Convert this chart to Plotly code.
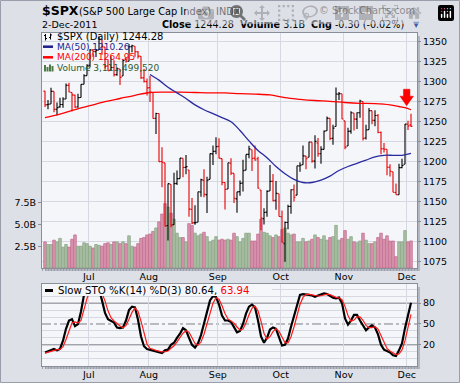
import plotly.graph_objects as go

# ---------------- data ----------------
month_labels = ["Jul", "Aug", "Sep", "Oct", "Nov", "Dec"]
month_start_idx = [15, 35, 58, 79, 100, 121]
prev_close = 1289.00

open_ = [1288.26, 1271.31, 1272.22, 1287.87, 1265.53, 1268.58, 1271.50, 1278.40, 1295.48, 1286.60, 1283.04, 1268.44, 1280.21, 1296.85, 1307.64,
         1320.64, 1339.59, 1337.56, 1339.62, 1352.39, 1343.31, 1319.61, 1314.45, 1317.74, 1308.87, 1315.94, 1307.07, 1328.66, 1325.65, 1343.80, 1344.32, 1337.39, 1331.91, 1304.84, 1300.12,
         1292.59, 1286.56, 1254.25, 1260.23, 1200.28, 1198.48, 1120.23, 1171.77, 1121.30, 1172.87, 1178.86, 1204.22, 1192.89, 1189.62, 1140.47, 1123.55, 1124.36, 1162.16, 1176.69, 1158.85, 1177.91, 1209.76, 1213.00,
         1219.12, 1203.90, 1173.97, 1165.85, 1197.98, 1185.37, 1153.50, 1162.59, 1173.32, 1189.44, 1209.21, 1214.99, 1204.50, 1203.63, 1164.55, 1128.82, 1136.91, 1163.32, 1175.39, 1151.74, 1159.93,
         1131.21, 1097.42, 1124.03, 1144.11, 1165.03, 1158.15, 1194.60, 1196.19, 1206.96, 1205.65, 1224.47, 1200.75, 1223.46, 1209.92, 1215.39, 1238.72, 1254.19, 1229.17, 1243.97, 1284.39, 1284.96,
         1251.00, 1219.62, 1238.25, 1260.82, 1253.21, 1261.12, 1275.18, 1229.59, 1240.12, 1263.85, 1251.70, 1257.81, 1236.56, 1216.19, 1215.62, 1192.98, 1187.48, 1161.41, 1158.67, 1192.56, 1196.72,
         1246.91, 1246.03]
high = [1288.26, 1277.04, 1292.50, 1287.87, 1274.11, 1279.82, 1280.42, 1297.62, 1298.61, 1286.60, 1283.93, 1284.91, 1296.80, 1309.21, 1321.97,
        1341.01, 1340.89, 1340.94, 1356.48, 1352.39, 1343.31, 1327.17, 1331.48, 1326.88, 1317.70, 1315.94, 1328.14, 1330.43, 1347.00, 1346.10, 1344.32, 1338.51, 1331.91, 1316.32, 1304.16,
        1307.38, 1286.56, 1261.20, 1260.23, 1218.11, 1198.48, 1172.88, 1171.77, 1186.29, 1189.04, 1204.49, 1204.22, 1208.47, 1189.62, 1154.54, 1145.49, 1162.35, 1178.56, 1190.68, 1181.23, 1210.28, 1220.10, 1230.71,
        1229.29, 1203.90, 1173.97, 1198.62, 1204.40, 1185.37, 1162.52, 1176.41, 1202.38, 1209.11, 1220.06, 1214.99, 1220.39, 1206.30, 1164.55, 1141.72, 1164.19, 1195.86, 1184.71, 1175.87, 1159.93,
        1138.99, 1125.12, 1146.07, 1165.55, 1171.40, 1194.91, 1199.24, 1220.25, 1207.46, 1224.61, 1224.47, 1233.10, 1229.64, 1219.36, 1239.03, 1256.55, 1254.19, 1246.28, 1292.66, 1287.08, 1284.96,
        1251.00, 1242.48, 1263.21, 1260.82, 1261.70, 1277.55, 1275.18, 1246.22, 1266.98, 1263.85, 1264.25, 1259.61, 1237.73, 1223.51, 1215.62, 1196.81, 1187.48, 1172.66, 1197.35, 1203.67, 1247.11,
        1251.09, 1260.08]
low = [1268.28, 1265.64, 1272.22, 1261.90, 1258.07, 1267.40, 1267.56, 1278.40, 1286.79, 1262.87, 1267.24, 1267.53, 1280.21, 1296.85, 1307.64,
       1318.18, 1330.92, 1330.92, 1339.62, 1333.71, 1316.42, 1313.33, 1314.45, 1306.51, 1307.35, 1295.92, 1307.07, 1323.65, 1325.65, 1336.95, 1331.09, 1329.10, 1303.49, 1299.16, 1282.86,
       1274.73, 1254.03, 1234.56, 1199.54, 1168.09, 1119.28, 1101.54, 1118.01, 1121.30, 1170.74, 1178.86, 1180.53, 1184.36, 1131.03, 1122.05, 1121.09, 1124.36, 1156.30, 1155.47, 1135.91, 1177.91, 1195.77, 1209.35,
       1203.85, 1170.56, 1140.13, 1165.85, 1183.34, 1148.37, 1136.07, 1157.44, 1162.73, 1189.44, 1204.46, 1188.36, 1201.29, 1166.21, 1114.22, 1121.36, 1131.07, 1163.32, 1150.40, 1139.93, 1131.34,
       1098.92, 1074.77, 1115.68, 1134.95, 1150.26, 1158.15, 1187.30, 1196.19, 1190.58, 1205.65, 1198.55, 1191.48, 1206.31, 1197.34, 1215.39, 1238.72, 1226.79, 1221.06, 1243.97, 1277.01, 1253.16,
       1215.42, 1219.62, 1234.81, 1238.92, 1240.75, 1254.99, 1226.64, 1227.70, 1240.12, 1246.68, 1244.34, 1235.67, 1209.43, 1211.36, 1183.16, 1181.65, 1161.79, 1158.66, 1158.67, 1191.80, 1196.72,
       1239.73, 1243.35]
close = [1270.98, 1271.83, 1287.87, 1265.42, 1267.64, 1271.50, 1278.36, 1295.52, 1287.14, 1283.50, 1268.45, 1280.10, 1296.67, 1307.41, 1320.64,
         1339.67, 1337.88, 1339.22, 1353.22, 1343.80, 1319.49, 1313.64, 1317.72, 1308.87, 1316.14, 1305.44, 1326.73, 1325.84, 1343.80, 1345.02, 1337.43, 1331.94, 1304.89, 1300.67, 1292.28,
         1286.94, 1254.05, 1260.34, 1200.07, 1199.38, 1119.46, 1172.53, 1120.76, 1172.64, 1178.81, 1204.49, 1192.76, 1193.89, 1140.65, 1123.53, 1123.82, 1162.35, 1177.60, 1159.27, 1176.80, 1210.08, 1212.92, 1218.89,
         1204.42, 1173.97, 1165.24, 1198.62, 1185.90, 1154.23, 1162.27, 1172.87, 1188.68, 1209.11, 1216.01, 1204.09, 1202.09, 1166.76, 1129.56, 1136.43, 1162.95, 1175.38, 1151.06, 1160.40, 1131.42,
         1099.23, 1123.95, 1144.03, 1164.97, 1155.46, 1194.89, 1195.54, 1207.25, 1203.66, 1224.58, 1200.86, 1225.38, 1209.88, 1215.39, 1238.25, 1254.19, 1229.05, 1242.00, 1284.59, 1285.09, 1253.30,
         1218.28, 1237.90, 1261.15, 1253.23, 1261.12, 1275.92, 1229.10, 1239.70, 1263.85, 1251.78, 1257.81, 1236.91, 1216.13, 1215.65, 1192.98, 1188.04, 1161.79, 1158.67, 1192.55, 1195.19, 1246.96,
         1244.58, 1244.28]
volume_b = [3.0, 2.7, 2.7, 3.2, 3.0, 3.4, 2.4, 2.7, 2.4, 3.3, 3.8, 2.5, 2.5, 2.9, 2.8,
            2.5, 2.3, 2.7, 2.6, 2.5, 2.8, 2.9, 2.7, 3.0, 3.0, 2.8, 3.0, 2.8, 3.7, 2.5, 2.4, 2.8, 3.4, 3.5, 3.8,
            3.9, 4.2, 4.6, 5.3, 6.2, 7.4, 7.0, 6.3, 5.6, 4.0, 3.5, 3.5, 3.0, 5.1, 4.9, 4.0, 3.7, 3.9, 4.1, 3.6, 3.0, 3.2, 3.6,
            3.2, 3.3, 3.2, 3.3, 3.2, 4.0, 3.6, 3.0, 3.4, 4.0, 4.0, 3.1, 3.1, 3.9, 5.6, 4.1, 4.0, 3.7, 3.5, 3.8, 3.6,
            4.4, 4.6, 4.0, 3.8, 3.9, 3.0, 3.0, 3.4, 3.0, 3.1, 3.3, 3.8, 3.5, 3.3, 3.7, 3.2, 3.5, 3.6, 4.9, 3.2, 3.4,
            4.3, 3.3, 3.6, 3.0, 2.9, 3.1, 4.0, 3.2, 2.8, 2.8, 3.0, 3.5, 4.0, 3.3, 3.7, 3.1, 3.1, 1.3, 3.0, 3.0, 4.3,
            3.0, 3.11]
ma50_idx = [35, 38, 41, 44, 47, 50, 53, 56, 59, 62, 65, 68, 71, 74, 77, 80, 83, 86, 89, 92, 95, 98, 101, 104, 107, 110, 113, 116, 119, 122]
ma50_val = [1309, 1302, 1293, 1286, 1279, 1271, 1265, 1260, 1255, 1250, 1239, 1226, 1214, 1205, 1194, 1185, 1178, 1174, 1174, 1177, 1182, 1189, 1194, 1198, 1202, 1206, 1208, 1208, 1208, 1210.26]
ma200_idx = [0, 5, 10, 15, 20, 25, 30, 35, 40, 45, 50, 55, 60, 65, 70, 75, 80, 85, 90, 95, 100, 105, 110, 115, 118, 120, 122]
ma200_val = [1255, 1259.5, 1265, 1270, 1275, 1279, 1283, 1286.5, 1287, 1287, 1286.5, 1286, 1286, 1285, 1284.5, 1283.5, 1280, 1278, 1276.5, 1275.5, 1274, 1273, 1272.5, 1271, 1269, 1267.5, 1264.95]
sto_k = [9, 11, 13, 14, 12, 14, 26, 43, 55, 57,
         47, 50, 68, 92, 100, 100, 98, 99, 100, 84,
         66, 57, 54, 52, 45, 44, 45, 55, 70, 75,
         74, 56, 32, 18, 14, 13, 12, 11, 10, 8,
         12, 13, 20, 23, 30, 36, 44, 41, 30, 20,
         16, 22, 34, 50, 66, 84, 90, 89, 78, 62,
         55, 55, 53, 46, 38, 40, 50, 65, 75, 78,
         74, 55, 32, 23, 30, 42, 45, 43, 30, 19,
         20, 29, 46, 62, 80, 92, 93, 93, 92, 91,
         89, 91, 92, 94, 93, 90, 88, 87, 88, 80,
         58, 49, 55, 63, 63, 55, 48, 41, 45, 48,
         45, 35, 20, 13, 11, 9, 5, 4, 12, 22,
         44, 65, 80.64]
sto_d = [8, 9.3, 11, 12.7, 13, 13.3, 17.3, 27.7, 41.3, 51.7,
         53, 51.3, 55, 70, 86.7, 97.3, 99.3, 99, 99, 94.3,
         83.3, 69, 59, 54.3, 50.3, 47, 44.7, 48, 56.7, 66.7,
         73, 68.3, 54, 35.3, 21.3, 15, 13, 12, 11, 9.7,
         10, 11, 15, 18.7, 24.3, 29.7, 36.7, 40.3, 38.3, 30.3,
         22, 19.3, 24, 35.3, 50, 66.7, 80, 87.7, 85.7, 76.3,
         65, 57.3, 54.3, 51.3, 45.7, 41.3, 42.7, 51.7, 63.3, 72.7,
         75.7, 69, 53.7, 36.7, 28.3, 31.7, 39, 43.3, 39.3, 30.7,
         23, 22.7, 31.7, 45.7, 62.7, 78, 88.3, 92.7, 92.7, 92,
         90.7, 90.3, 90.7, 92.3, 93, 92.3, 90.3, 88.3, 87.7, 85,
         75.3, 62.3, 54, 55.7, 60.3, 60.3, 55.3, 48, 44.7, 44.7,
         46, 42.7, 33.3, 22.7, 14.7, 11, 8.3, 6, 7, 12.7,
         26, 43.7, 63.94]
price_ticks = [1075, 1100, 1125, 1150, 1175, 1200, 1225, 1250, 1275, 1300, 1325, 1350]
vol_ticks = [2.5, 5.0, 7.5]
vol_tick_text = ["2.5B", "5.0B", "7.5B"]
sto_ticks = [20, 50, 80]
sto_minor = [0, 10, 30, 40, 60, 70, 90, 100]

# ---------------- styling / geometry ----------------
W, H = 460, 383
ML, MR, MT, MB = 42, 43, 33, 17
PW, PH = W - ML - MR, H - MT - MB
FONT = "DejaVu Sans"


def px(x):
    return (x - ML) / PW


def py(y):
    return (H - MB - y) / PH


MAIN_TOP, MAIN_BOT = 33, 268
STO_TOP, STO_BOT = 284, 366
GRID = "#d6d9e1"
AXLINE = "#8a8e98"
PANEL_BG = "#f5f6fa"
SHADOW = "#b3b7c1"
GREEN, GREEN_L = "#a9c0a4", "#85a17f"
PINK, PINK_L = "#d995ae", "#c0668a"
RED = "#e60000"

n = len(close)
xs = list(range(n))
prevs = [prev_close] + close[:-1]
is_up = [c >= p for c, p in zip(close, prevs)]

fig = go.Figure()

# volume (base y axis of the price panel)
fig.add_trace(go.Bar(
    x=xs, y=volume_b, xaxis="x", yaxis="y",
    marker=dict(color=[GREEN if u else PINK for u in is_up],
                line=dict(color=[GREEN_L if u else PINK_L for u in is_up], width=0.7)),
    hoverinfo="skip"))

# moving averages
fig.add_trace(go.Scatter(x=ma200_idx, y=ma200_val, mode="lines", xaxis="x", yaxis="y3",
                         line=dict(color="#ff0000", width=1.3, shape="spline"), hoverinfo="skip"))
fig.add_trace(go.Scatter(x=ma50_idx, y=ma50_val, mode="lines", xaxis="x", yaxis="y3",
                         line=dict(color="#2a2aa0", width=1.3, shape="spline"), hoverinfo="skip"))

# price bars: black when close >= previous close, red otherwise
for flag, col in [(True, "#000000"), (False, RED)]:
    sel = [i for i in xs if is_up[i] == flag]
    fig.add_trace(go.Ohlc(
        x=sel, open=[open_[i] for i in sel], high=[high[i] for i in sel],
        low=[low[i] for i in sel], close=[close[i] for i in sel],
        xaxis="x", yaxis="y3", tickwidth=0.5,
        increasing=dict(line=dict(color=col, width=1.1)),
        decreasing=dict(line=dict(color=col, width=1.1)),
        hoverinfo="skip"))

# slow stochastic
fig.add_trace(go.Scatter(x=xs, y=sto_k, mode="lines", xaxis="x2", yaxis="y2",
                         line=dict(color="#000000", width=2.2), hoverinfo="skip"))
fig.add_trace(go.Scatter(x=xs, y=sto_d, mode="lines", xaxis="x2", yaxis="y2",
                         line=dict(color="#ff1a1a", width=1.2), hoverinfo="skip"))

month_ticks = [m - 0.4 for m in month_start_idx]
xcommon = dict(range=[-1, 124], tickmode="array", tickvals=month_ticks, ticktext=month_labels,
               showgrid=True, gridcolor=GRID, gridwidth=1, zeroline=False, automargin=False,
               showline=True, mirror=True, linecolor=AXLINE, linewidth=1,
               ticks="", tickfont=dict(family=FONT, size=9.5, color="#000"),
               rangeslider=dict(visible=False),
               minor=dict(tickmode="linear", tick0=0, dtick=1, ticks="outside", ticklen=2,
                          tickcolor="#9a9ea8", showgrid=False))

fig.update_layout(
    width=W, height=H, autosize=False, margin=dict(l=ML, r=MR, t=MT, b=MB, autoexpand=False),
    paper_bgcolor="#dde0e7", plot_bgcolor="rgba(0,0,0,0)",
    showlegend=False, bargap=0.12, hovermode=False,
    xaxis=dict(domain=[0, 1], anchor="y", **xcommon),
    xaxis2=dict(domain=[0, 1], anchor="y2", matches="x", **xcommon),
    yaxis=dict(domain=[py(MAIN_BOT), 1], range=[0, 27.0], side="left", automargin=False,
               tickvals=vol_ticks, ticktext=vol_tick_text, showgrid=False, zeroline=False,
               ticks="outside", ticklen=3, tickcolor=AXLINE,
               tickfont=dict(family=FONT, size=9.5, color="#000")),
    yaxis3=dict(overlaying="y", side="right", range=[1067.1, 1360.9], tickvals=price_ticks,
                showgrid=True, gridcolor=GRID, zeroline=False, automargin=False,
                showline=True, mirror=True, linecolor=AXLINE, linewidth=1,
                ticks="outside", ticklen=3, tickcolor=AXLINE,
                tickfont=dict(family=FONT, size=9.5, color="#000")),
    yaxis2=dict(domain=[0, py(STO_TOP)], range=[-10.5, 107.6], side="right", automargin=False,
                tickvals=sto_ticks, showgrid=False, zeroline=False,
                showline=True, mirror=True, linecolor=AXLINE, linewidth=1,
                ticks="outside", ticklen=3, tickcolor=AXLINE,
                tickfont=dict(family=FONT, size=9.5, color="#000"),
                minor=dict(tickvals=sto_minor, showgrid=True, gridcolor=GRID, ticks="")),
)

shapes = []
# page frame
shapes.append(dict(type="rect", xref="paper", yref="paper", x0=px(0.5), x1=px(W - 0.5),
                   y0=py(0.5), y1=py(H - 0.5), line=dict(color="#9a9eaa", width=1),
                   fillcolor="rgba(0,0,0,0)", layer="below"))
# panel shadows and backgrounds
for top, bot in [(MAIN_TOP, MAIN_BOT), (STO_TOP, STO_BOT)]:
    shapes.append(dict(type="rect", xref="paper", yref="paper", x0=px(ML + 3), x1=px(W - MR + 3),
                       y0=py(bot + 3), y1=py(top + 3), line=dict(width=0), fillcolor=SHADOW, layer="below"))
    shapes.append(dict(type="rect", xref="paper", yref="paper", x0=0, x1=1,
                       y0=py(bot), y1=py(top), line=dict(width=0), fillcolor=PANEL_BG, layer="below"))
# stochastic reference lines
for lvl, dash in [(20, "solid"), (80, "solid"), (50, "dashdot")]:
    shapes.append(dict(type="line", xref="x2", yref="y2", x0=-1, x1=124, y0=lvl, y1=lvl,
                       line=dict(color="#7d7f86", width=1, dash=dash), layer="below"))
# legend box of the stochastic panel (hides lines underneath)
shapes.append(dict(type="rect", xref="paper", yref="paper", x0=px(42.6), x1=px(272),
                   y0=py(296), y1=py(284.6), line=dict(width=0), fillcolor=PANEL_BG, layer="above"))
# legend icons
shapes.append(dict(type="path", xref="paper", yref="paper",
                   path=("M {a},{b} L {a},{c} M {d},{e} L {a},{e} M {a},{f} L {g},{f} "
                         "M {h},{i} L {h},{j} M {k},{l} L {h},{l} M {h},{m} L {o},{m}").format(
                       a=px(45.5), b=py(34), c=py(40.5), d=px(44), e=py(35.5), f=py(38.5), g=px(47),
                       h=px(50.5), i=py(33.5), j=py(39.5), k=px(49), l=py(37.5), m=py(35), o=px(52)),
                   line=dict(color="#000", width=1), layer="above"))
shapes.append(dict(type="line", xref="paper", yref="paper", x0=px(43), x1=px(53), y0=py(46.7), y1=py(46.7),
                   line=dict(color="#1c1c8c", width=2.5), layer="above"))
shapes.append(dict(type="line", xref="paper", yref="paper", x0=px(43), x1=px(53), y0=py(57.3), y1=py(57.3),
                   line=dict(color="#ff0000", width=2.5), layer="above"))
for bx, btop in [(44, 65), (46.5, 67), (49, 64.5), (51.5, 66)]:
    shapes.append(dict(type="rect", xref="paper", yref="paper", x0=px(bx), x1=px(bx + 2), y0=py(71.5), y1=py(btop),
                       line=dict(width=0), fillcolor="#4d7a45", layer="above"))
shapes.append(dict(type="line", xref="paper", yref="paper", x0=px(45), x1=px(53), y0=py(290.5), y1=py(290.5),
                   line=dict(color="#000", width=3), layer="above"))
# red down arrow marker (tip anchored near the last bars, geometry in pixels)
shapes.append(dict(type="path", xref="x", yref="y3", xsizemode="pixel", ysizemode="pixel",
                   xanchor=120.55, yanchor=1270.0,
                   path="M 0,0 L -6.7,9.5 L -3.2,9.5 L -3.2,16.5 L 3.3,16.5 L 3.3,9.5 L 6.8,9.5 Z",
                   fillcolor="#ff0000", line=dict(color="#ff0000", width=0.5), layer="above"))
fig.update_layout(shapes=shapes)

ann = []


def text(x, y, s, size=9.5, color="#000", anchor="left", bold=False, family=FONT):
    ann.append(dict(xref="paper", yref="paper", x=px(x), y=py(y), text=("<b>%s</b>" % s) if bold else s,
                    showarrow=False, xanchor=anchor, yanchor="middle",
                    font=dict(family=family, size=size, color=color)))


text(40, 11, "$SPX", size=12.5, bold=True)
text(77, 11.5, "(S&P 500 Large Cap Index)", size=9.8)
text(214, 11.5, "INDX", size=9.8)
text(417, 11, "© StockCharts.com", size=9.8, color="#3a3a3a", anchor="right")
text(40, 24, "2-Dec-2011", size=9.5)
text(406, 24, "<b>Close</b> 1244.28  <b>Volume</b> 3.1B  <b>Chg</b> -0.30 (-0.02%)", size=9.6, anchor="right")
text(411, 24.5, "▼", size=8, color="#3a5aa8")
text(55, 37, "$SPX (Daily) 1244.28", size=10)
text(54.5, 47, "MA(50) 1210.26", size=9, color="#1c1c8c")
text(54.5, 57.5, "MA(200) 1264.95", size=9, color="#ff0000")
text(54.5, 68.3, "Volume 3,111,499,520", size=9, color="#2f5a2a")
text(56, 290.5, "Slow STO %K(14) %D(3) 80.64, <span style='color:#ff0000'>63.94</span>", size=10.2)
fig.update_layout(annotations=ann)

fig.write_html("out.html", config={"responsive": False},
               post_script="document.body.style.margin='0px';document.body.style.overflow='hidden';")
